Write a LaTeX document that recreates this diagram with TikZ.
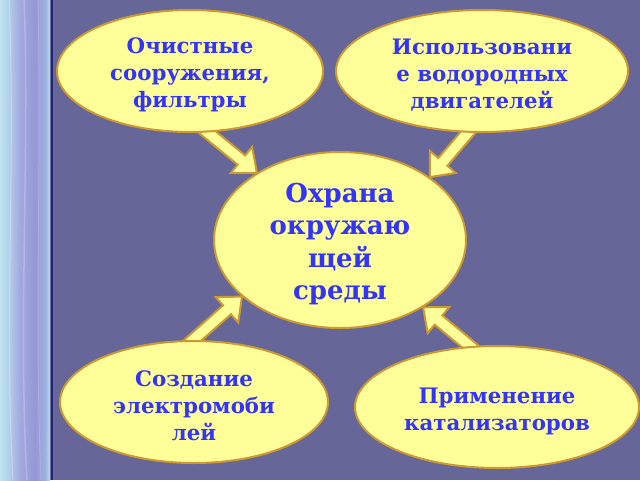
\documentclass[tikz,border=0pt]{standalone}
\usepackage{fontspec}
\setmainfont{DejaVu Serif}
\usetikzlibrary{positioning, shapes.geometric, calc}

\definecolor{slidebg}{RGB}{102,102,153}
\definecolor{cream}{RGB}{255,255,153}
\definecolor{rim}{RGB}{204,153,51}
\definecolor{ink}{RGB}{51,51,255}
\definecolor{navyline}{RGB}{35,35,115}

\pgfdeclarehorizontalshading{stripshade}{100bp}{%
  rgb(0bp)=(0.76,0.89,0.94); rgb(25bp)=(0.76,0.89,0.94);
  rgb(33bp)=(0.70,0.82,0.92); rgb(45bp)=(0.64,0.66,0.88);
  rgb(60bp)=(0.59,0.59,0.84); rgb(70bp)=(0.62,0.69,0.88);
  rgb(74bp)=(0.70,0.83,0.91); rgb(100bp)=(0.70,0.83,0.91)}

\pgfdeclarelayer{backdrop}
\pgfdeclarelayer{links}
\pgfsetlayers{backdrop,links,main}

% fat arrow from #1 to the tip #2
\newcommand{\fatarrow}[2]{%
  \coordinate (fa-s) at ($(#1)!-6pt!(#2)$);
  \coordinate (fa-h) at ($(#2)!20pt!(#1)$);
  \filldraw[arrowbody]
    ($(fa-s)!6pt!90:(#2)$) -- ($(fa-h)!6pt!90:(#2)$) -- ($(fa-h)!17pt!90:(#2)$)
    -- (#2) -- ($(fa-h)!17pt!-90:(#2)$) -- ($(fa-h)!6pt!-90:(#2)$)
    -- ($(fa-s)!6pt!-90:(#2)$) -- cycle;}

\begin{document}
\begin{tikzpicture}[
  x=1pt, y=-1pt,
  every node/.style={font=\fontsize{21.3}{27}\selectfont\bfseries},
  bubble/.style={ellipse, draw=rim, line width=2pt, fill=cream, inner sep=0pt},
  caption/.style={align=center, text=ink, yshift=-4pt},
  arrowbody/.style={fill=cream, draw=rim, line width=2pt, line join=miter}
]
\useasboundingbox (0,0) rectangle (640,480);

% Slide background with the striped band on the left
\begin{pgfonlayer}{backdrop}
\fill[slidebg] (0,0) rectangle (640,480);
\shade[shading=stripshade] (0,0) rectangle (50,480);
\draw[white, opacity=0.3, line width=1pt] (9,0) .. controls (16,160) and (4,320) .. (13,480);
\draw[white, opacity=0.2, line width=1.5pt] (24,0) .. controls (30,140) and (18,330) .. (27,480);
\draw[white, opacity=0.15, line width=1pt] (38,0) .. controls (42,180) and (34,300) .. (41,480);
\draw[navyline, line width=2pt] (52,0) -- (52,480);
\end{pgfonlayer}

% Centre: Охрана окружающей среды
\node[bubble, minimum width=252pt, minimum height=176pt] (env) at (340,240) {};
\node[caption, font=\fontsize{26}{32.5}\selectfont\bfseries] (env-text) at (env)
  {Охрана\\окружаю\\щей\\среды};

% Measures around the centre
\node[bubble, minimum width=266pt, minimum height=122pt] (tl) at (190,71) {};
\node[caption] (tl-text) at (tl) {Очистные\\сооружения,\\фильтры};
\node[bubble, minimum width=292pt, minimum height=122pt] (tr) at (482,71) {};
\node[caption] (tr-text) at (tr) {Использовани\\е водородных\\двигателей};
\node[bubble, minimum width=268pt, minimum height=122pt] (bl) at (194,402) {};
\node[caption] (bl-text) at (bl) {Создание\\электромоби\\лей};
\node[bubble, minimum width=284pt, minimum height=122pt] (br) at (497,407) {};
\node[caption] (br-text) at (br) {Применение\\катализаторов};

% Arrows into the centre
\begin{pgfonlayer}{links}
\fatarrow{tl.-74}{env.141}
\fatarrow{tr.257}{env.35}
\fatarrow{bl.91}{env.210}
\fatarrow{br.114}{env.321}
\end{pgfonlayer}

\end{tikzpicture}
\end{document}
